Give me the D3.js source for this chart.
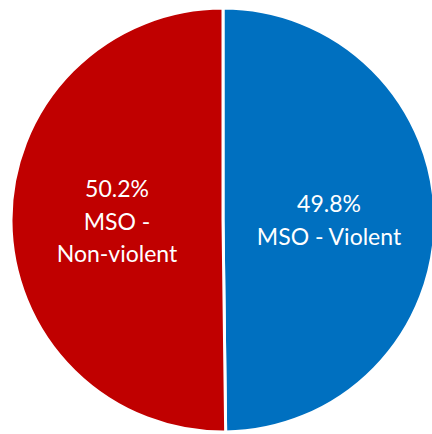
<!DOCTYPE html>
<html><head><meta charset="utf-8">
<script src="https://cdn.jsdelivr.net/npm/d3@7"></script>
<style>html,body{margin:0;padding:0;background:#fff;overflow:hidden}</style>
</head><body>
<svg id="c" width="432" height="434"></svg>
<script>
const categories = ["MSO - Violent", "MSO - Non-violent"];
const values = [49.8, 50.2];
const labelLines = [["49.8%", "MSO - Violent"], ["50.2%", "MSO -", "Non-violent"]];
const colors = ["#0070C0", "#C00000"];

const svg = d3.select("#c");
const cx = 223, cy = 220, R = 212;
const g = svg.append("g").attr("transform", `translate(${cx},${cy})`);
const pie = d3.pie().sort(null).value(d => d);
const arcs = pie(values);
const arc = d3.arc().innerRadius(0).outerRadius(R);

g.selectAll("path").data(arcs).join("path")
  .attr("d", arc)
  .attr("fill", (d, i) => colors[i])
  .attr("stroke", "#fff")
  .attr("stroke-width", 3)
  .attr("stroke-linejoin", "round");

const lh = 32.5;
g.selectAll("text.lbl").data(arcs).join("text")
  .attr("class", "lbl")
  .attr("text-anchor", "middle")
  .attr("fill", "#fff")
  .attr("font-family", "Lato, 'Open Sans', sans-serif")
  .attr("font-size", 23)
  .each(function(d, i) {
    const [x, y] = arc.centroid(d);
    const lines = labelLines[i];
    const t = d3.select(this);
    const first = y - (lines.length - 1) * lh / 2 + 9;
    lines.forEach((s, k) => {
      t.append("tspan").attr("x", x).attr("y", first + k * lh).text(s);
    });
  });
</script>
</body></html>
